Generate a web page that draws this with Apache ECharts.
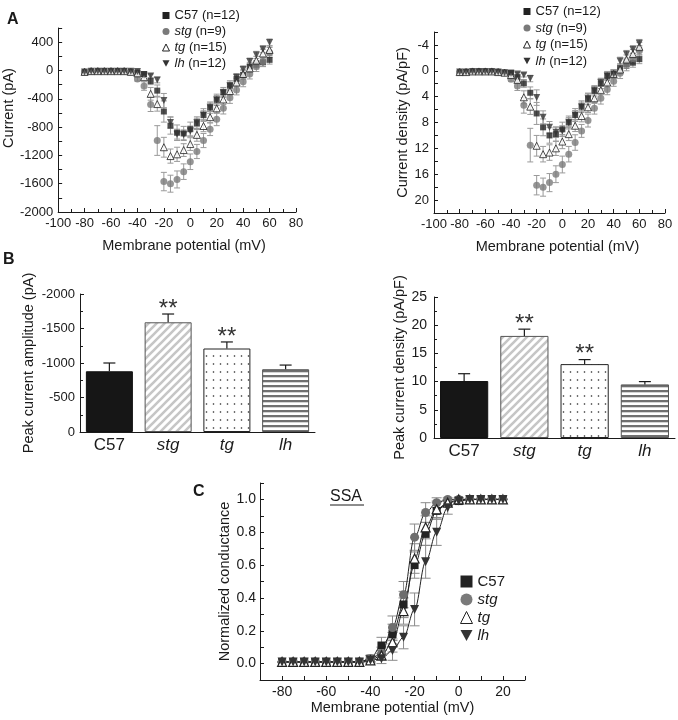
<!DOCTYPE html>
<html><head><meta charset="utf-8">
<script src="https://cdn.jsdelivr.net/npm/echarts@6/dist/echarts.min.js"></script>
<style>html,body{margin:0;padding:0;background:#fff}#c{width:678px;height:720px}</style>
</head><body><div id="c"></div>
<script>
// ---------------- data ----------------
var groupNames = ['C57', 'stg', 'tg', 'lh'];
var groupN = [12, 9, 15, 12];

var voltagesA = [-80,-75,-70,-65,-60,-55,-50,-45,-40,-35,-30,-25,-20,-15,-10,-5,0,5,10,15,20,25,30,35,40,45,50,55,60];

var currC57 = [-30,-20,-15,-10,-10,-10,-10,-20,-30,-50,-150,-285,-580,-780,-880,-890,-830,-745,-630,-525,-415,-310,-215,-120,-65,55,80,115,150];
var currStg = [-20,-10,-10,-10,-10,-10,-10,-20,-120,-220,-480,-990,-1570,-1600,-1540,-1430,-1290,-1145,-990,-830,-690,-535,-385,-275,-160,-50,55,125,255];
var currTg  = [-20,-10,-10,-10,-10,-10,-10,-20,-40,-95,-330,-475,-1085,-1210,-1185,-1125,-1040,-910,-785,-660,-535,-410,-290,-170,-50,30,140,240,290];
var currLh  = [-20,-10,-10,-10,-10,-10,-10,-10,-15,-65,-80,-135,-425,-735,-900,-910,-855,-735,-630,-520,-415,-315,-215,-95,15,125,220,300,395];

var currErrC57 = [10,10,10,10,10,10,10,10,20,30,50,80,150,120,110,100,100,90,90,80,80,70,70,60,60,60,60,60,60];
var currErrStg = [10,10,10,10,10,10,10,10,30,60,100,210,130,120,120,110,110,100,100,90,90,80,80,70,70,70,70,70,70];
var currErrTg  = [10,10,10,10,10,10,10,10,20,40,90,100,140,100,100,90,90,90,80,80,70,70,60,60,60,60,60,60,60];
var currErrLh  = [10,10,10,10,10,10,10,10,10,20,30,40,100,80,70,70,70,60,60,60,60,50,50,50,50,50,50,50,50];

var densC57 = [0.3,0.2,0.2,0.2,0.2,0.2,0.2,0.3,0.3,1.0,1.95,3.4,6.6,8.75,10.0,9.8,9.05,8.0,6.85,5.55,4.35,3.1,1.95,0.8,0.5,-0.4,-1.05,-1.25,-1.8];
var densStg = [0.2,0.2,0.1,0.1,0.1,0.1,0.2,0.3,1.3,2.35,5.35,11.5,17.7,18.0,17.3,16.0,14.5,12.9,11.1,9.3,7.7,5.8,4.25,2.9,1.6,0.4,-0.8,-1.9,-3.1];
var densTg  = [0.2,0.2,0.1,0.1,0.1,0.1,0.2,0.3,0.65,1.4,4.1,5.55,11.6,12.9,12.65,12.0,10.95,9.8,8.5,7.0,5.65,4.25,3.0,1.8,0.5,-0.2,-1.75,-2.6,-3.7];
var densLh  = [0.2,0.2,0.1,0.1,0.1,0.1,0.2,0.3,0.4,0.5,0.65,1.2,4.15,7.2,8.75,9.5,9.3,7.95,6.85,5.55,4.25,3.0,1.8,0.75,0.5,-1.5,-2.55,-3.3,-4.25];

var densErrC57 = [0.1,0.1,0.1,0.1,0.1,0.1,0.1,0.1,0.2,0.4,0.6,0.9,1.7,1.3,1.2,1.1,1.1,1.0,1.0,0.9,0.9,0.8,0.8,0.7,0.7,0.7,0.7,0.7,0.7];
var densErrStg = [0.1,0.1,0.1,0.1,0.1,0.1,0.1,0.1,0.3,0.7,1.2,2.6,1.5,1.4,1.4,1.3,1.3,1.2,1.2,1.0,1.0,0.9,0.9,0.8,0.8,0.8,0.8,0.8,0.8];
var densErrTg  = [0.1,0.1,0.1,0.1,0.1,0.1,0.1,0.1,0.2,0.5,1.0,1.2,1.6,1.2,1.2,1.1,1.1,1.0,0.9,0.9,0.8,0.8,0.7,0.7,0.7,0.7,0.7,0.7,0.7];
var densErrLh  = [0.1,0.1,0.1,0.1,0.1,0.1,0.1,0.1,0.1,0.2,0.3,0.5,1.2,1.0,0.9,0.8,0.8,0.7,0.7,0.7,0.7,0.6,0.6,0.6,0.6,0.6,0.6,0.6,0.6];

var barCats = ['C57', 'stg', 'tg', 'lh'];
var peakAmp = [-880, -1590, -1210, -910];
var peakAmpErr = [120, 120, 95, 60];
var peakDens = [10.1, 18.1, 13.1, 9.5];
var peakDensErr = [1.3, 1.2, 0.8, 0.5];
var sigMarks = ['', '**', '**', ''];

var voltagesC = [-80,-75,-70,-65,-60,-55,-50,-45,-40,-35,-30,-25,-20,-15,-10,-5,0,5,10,15,20];
var gC57 = [0.01,0.01,0.01,0.01,0.01,0.01,0.01,0.01,0.03,0.11,0.18,0.36,0.60,0.79,0.93,0.98,0.99,1.0,1.0,1.0,1.0];
var gStg = [0.01,0.01,0.01,0.01,0.01,0.01,0.01,0.01,0.03,0.06,0.22,0.42,0.77,0.92,0.98,1.0,1.0,1.0,1.0,1.0,1.0];
var gTg  = [0.01,0.01,0.01,0.01,0.01,0.01,0.01,0.01,0.02,0.05,0.13,0.32,0.64,0.83,0.94,0.98,1.0,1.0,1.0,1.0,1.0];
var gLh  = [0.01,0.01,0.01,0.01,0.01,0.01,0.01,0.01,0.02,0.03,0.08,0.16,0.33,0.62,0.80,0.95,0.99,1.0,1.0,1.0,1.0];
var gErrC57 = [0,0,0,0,0,0,0,0,0.02,0.05,0.06,0.08,0.08,0.07,0.05,0.02,0.01,0,0,0,0];
var gErrStg = [0,0,0,0,0,0,0,0,0.02,0.04,0.07,0.08,0.08,0.06,0.03,0.01,0,0,0,0,0];
var gErrTg  = [0,0,0,0,0,0,0,0,0.02,0.03,0.06,0.08,0.09,0.07,0.05,0.02,0.01,0,0,0,0];
var gErrLh  = [0,0,0,0,0,0,0,0,0.01,0.03,0.06,0.07,0.10,0.10,0.08,0.04,0.02,0,0,0,0];

// ---------------- styles ----------------
var FONT = '"Liberation Sans", Arial, sans-serif';
var INK = '#1a1a1a';

function mkCanvas(w, h) { var c = document.createElement('canvas'); c.width = w; c.height = h; var g = c.getContext('2d'); g.fillStyle = '#fff'; g.fillRect(0, 0, w, h); return [c, g]; }
function hatchPattern() {
  var r = mkCanvas(8, 8), c = r[0], g = r[1];
  g.strokeStyle = '#c6c6c6'; g.lineWidth = 2.6; g.beginPath();
  g.moveTo(-4, 4); g.lineTo(4, -4);
  g.moveTo(-4, 12); g.lineTo(12, -4);
  g.moveTo(4, 12); g.lineTo(12, 4);
  g.stroke();
  return c;
}
function dotPattern() {
  var r = mkCanvas(7, 8), c = r[0], g = r[1];
  g.fillStyle = '#222'; g.beginPath(); g.arc(3.5, 4, 0.8, 0, Math.PI * 2); g.fill();
  return c;
}
function stripePattern() {
  var r = mkCanvas(8, 5), c = r[0], g = r[1];
  g.fillStyle = '#707070'; g.fillRect(0, 0, 8, 2.3);
  return c;
}
var barFills = ['#161616', {image: hatchPattern(), repeat: 'repeat'}, {image: dotPattern(), repeat: 'repeat'}, {image: stripePattern(), repeat: 'repeat'}];
var barBorders = ['#111', '#555', '#222', '#555'];

var markerA = [
  {symbol: 'rect', size: 6, style: {color: '#222'}},
  {symbol: 'circle', size: 7, style: {color: '#7a7a7a'}},
  {symbol: 'triangle', size: 7, style: {color: '#fff', borderColor: '#222', borderWidth: 1}},
  {symbol: 'triangle', size: 7, rotate: 180, style: {color: '#333'}}
];
var markerC = [
  {symbol: 'rect', size: 8, style: {color: '#222'}},
  {symbol: 'circle', size: 9, style: {color: '#6e6e6e'}},
  {symbol: 'triangle', size: 9, style: {color: '#fff', borderColor: '#222', borderWidth: 1.2}},
  {symbol: 'triangle', size: 9, rotate: 180, style: {color: '#333'}}
];
var legendIcons = ['rect', 'circle', 'triangle', 'path://M0,0L10,0L5,9Z'];

function axisBase(extra) {
  var a = {
    axisLine: {show: true, onZero: false, lineStyle: {color: INK, width: 1}},
    axisTick: {show: true, inside: true, length: 4, lineStyle: {color: INK}},
    minorTick: {show: false},
    splitLine: {show: false},
    axisLabel: {color: INK, fontFamily: FONT, fontSize: 13, margin: 5, formatter: function (v) { return String(v); }},
    nameTextStyle: {color: INK, fontFamily: FONT, fontSize: 14.5}
  };
  for (var k in extra) {
    if (a[k] && typeof a[k] === 'object' && typeof extra[k] === 'object') {
      for (var kk in extra[k]) a[k][kk] = extra[k][kk];
    } else a[k] = extra[k];
  }
  return a;
}

function errRender(color, cap) {
  return function (params, api) {
    var x = api.value(0), lo = api.value(1), hi = api.value(2);
    var a = api.coord([x, lo]), b = api.coord([x, hi]);
    var st = {stroke: color, lineWidth: 1};
    return {type: 'group', children: [
      {type: 'line', shape: {x1: a[0], y1: a[1], x2: b[0], y2: b[1]}, style: st},
      {type: 'line', shape: {x1: a[0] - cap, y1: a[1], x2: a[0] + cap, y2: a[1]}, style: st},
      {type: 'line', shape: {x1: b[0] - cap, y1: b[1], x2: b[0] + cap, y2: b[1]}, style: st}
    ]};
  };
}
function barErrRender(params, api) {
  var x = api.value(0), v = api.value(1), e = api.value(2);
  var a = api.coord([x, v]), b = api.coord([x, e]);
  var st = {stroke: INK, lineWidth: 1.2};
  var ch = [
    {type: 'line', shape: {x1: a[0], y1: a[1], x2: b[0], y2: b[1]}, style: st},
    {type: 'line', shape: {x1: b[0] - 6, y1: b[1], x2: b[0] + 6, y2: b[1]}, style: st}
  ];
  var s = sigMarks[params.dataIndex];
  if (s) ch.push({type: 'text', x: b[0], y: b[1] - 17, style: {text: s, fill: '#333', fontFamily: FONT, fontSize: 24, align: 'center', verticalAlign: 'top'}});
  return {type: 'group', children: ch};
}

var currSets = [[currC57, currErrC57], [currStg, currErrStg], [currTg, currErrTg], [currLh, currErrLh]];
var densSets = [[densC57, densErrC57], [densStg, densErrStg], [densTg, densErrTg], [densLh, densErrLh]];
var gSets = [[gC57, gErrC57], [gStg, gErrStg], [gTg, gErrTg], [gLh, gErrLh]];

var series = [];
function addScatterGroup(sets, xs, axisIdx, markers, errColor, cap, asLine) {
  sets.forEach(function (s, gi) {
    var vals = s[0], errs = s[1];
    series.push({
      name: groupNames[gi], type: 'custom', xAxisIndex: axisIdx, yAxisIndex: axisIdx, z: 1,
      renderItem: errRender(errColor, cap), encode: {x: 0, y: [1, 2]}, silent: true,
      data: xs.map(function (x, i) { return [x, vals[i] - errs[i], vals[i] + errs[i]]; })
    });
  });
  sets.forEach(function (s, gi) {
    var vals = s[0];
    var m = markers[gi];
    var o = {
      name: groupNames[gi], type: asLine ? 'line' : 'scatter', xAxisIndex: axisIdx, yAxisIndex: axisIdx, z: 3,
      symbol: m.symbol, symbolSize: m.size, symbolRotate: m.rotate || 0, itemStyle: m.style,
      data: xs.map(function (x, i) { return [x, vals[i]]; })
    };
    if (asLine) {
      o.smooth = 0.35; o.smoothMonotone = 'x'; o.showAllSymbol = true;
      o.lineStyle = {color: '#222', width: 1};
    }
    series.push(o);
  });
}
addScatterGroup(currSets, voltagesA, 0, markerA, '#9a9a9a', 3);
addScatterGroup(densSets, voltagesA, 1, markerA, '#9a9a9a', 3);

[[peakAmp, peakAmpErr, 2], [peakDens, peakDensErr, 3]].forEach(function (b) {
  series.push({
    type: 'bar', xAxisIndex: b[2], yAxisIndex: b[2], barWidth: '80%', z: 2, silent: true,
    data: b[0].map(function (v, i) { return {value: v, itemStyle: {color: barFills[i], borderColor: barBorders[i], borderWidth: 1}}; })
  });
  series.push({
    type: 'custom', xAxisIndex: b[2], yAxisIndex: b[2], z: 3, renderItem: barErrRender, silent: true,
    encode: {x: 0, y: [1, 2]},
    data: b[0].map(function (v, i) { return [i, v, v + (v < 0 ? -1 : 1) * b[1][i]]; })
  });
});

addScatterGroup(gSets, voltagesC, 4, markerC, '#8a8a8a', 5, true);

function legendData() {
  return groupNames.map(function (n, i) {
    var st = {color: markerA[i].style.color};
    if (markerA[i].style.borderColor) { st.borderColor = '#222'; st.borderWidth = 1; }
    return {name: n, icon: legendIcons[i], itemStyle: st};
  });
}
var legRich = function (fs) {
  return {n: {fontFamily: FONT, fontSize: fs, color: INK}, i: {fontFamily: FONT, fontSize: fs, color: INK, fontStyle: 'italic'}};
};
function fmtA(name) {
  var i = groupNames.indexOf(name);
  return (name === 'C57' ? '{n|C57}' : '{i|' + name + '}') + '{n| (n=' + groupN[i] + ')}';
}
function fmtC(name) { return name === 'C57' ? '{n|C57}' : '{i|' + name + '}'; }

var option = {
  animation: false,
  backgroundColor: '#fff',
  textStyle: {fontFamily: FONT, color: INK},
  grid: [
    {left: 57, top: 28, width: 239, height: 184},
    {left: 434, top: 32, width: 231, height: 181},
    {left: 80, top: 294, width: 235, height: 138},
    {left: 434, top: 297, width: 241, height: 141},
    {left: 260, top: 483, width: 265, height: 197}
  ],
  legend: [
    {left: 157, top: 4, orient: 'vertical', itemWidth: 7, itemHeight: 7, itemGap: 3, selectedMode: false,
     data: legendData(), formatter: fmtA, textStyle: {fontSize: 13, fontFamily: FONT, color: INK, rich: legRich(13)}},
    {left: 518, top: 0, orient: 'vertical', itemWidth: 7, itemHeight: 7, itemGap: 3.5, selectedMode: false,
     data: legendData(), formatter: fmtA, textStyle: {fontSize: 13, fontFamily: FONT, color: INK, rich: legRich(13)}},
    {left: 455, top: 569, orient: 'vertical', itemWidth: 12, itemHeight: 12, itemGap: 3, selectedMode: false,
     data: legendData(), formatter: fmtC, textStyle: {fontSize: 15, fontFamily: FONT, color: INK, rich: legRich(15)}}
  ],
  xAxis: [
    axisBase({gridIndex: 0, type: 'value', min: -100, max: 80, interval: 20, minorTick: {show: true, splitNumber: 2, length: 3, lineStyle: {color: INK}},
      name: 'Membrane potential (mV)', nameLocation: 'middle', nameGap: 26, nameTextStyle: {padding: [0, 0, 0, 14]}}),
    axisBase({gridIndex: 1, type: 'value', min: -100, max: 80, interval: 20, minorTick: {show: true, splitNumber: 2, length: 3, lineStyle: {color: INK}},
      name: 'Membrane potential (mV)', nameLocation: 'middle', nameGap: 26, nameTextStyle: {padding: [0, 0, 0, 16]}}),
    axisBase({gridIndex: 2, type: 'category', data: barCats, axisTick: {show: false},
      axisLabel: {margin: 5, formatter: fmtC, rich: legRich(17)}}),
    axisBase({gridIndex: 3, type: 'category', data: barCats, axisTick: {show: false},
      axisLabel: {margin: 5, formatter: fmtC, rich: legRich(17)}}),
    axisBase({gridIndex: 4, type: 'value', min: -90, max: 30, interval: 10,
      axisLabel: {fontSize: 14, formatter: function (v) { var r = Math.round(v); return ((r + 80) % 20 === 0) ? String(r) : ''; }},
      name: 'Membrane potential (mV)', nameLocation: 'middle', nameGap: 20})
  ],
  yAxis: [
    axisBase({gridIndex: 0, type: 'value', min: -2000, max: 600, interval: 200,
      axisLabel: {formatter: function (v) { return (v % 400 === 0 && v <= 400) ? String(v) : ''; }},
      name: 'Current (pA)', nameLocation: 'middle', nameGap: 38, nameTextStyle: {padding: [0, 0, 0, 24]}}),
    axisBase({gridIndex: 1, type: 'value', inverse: true, min: -6, max: 22, interval: 2,
      axisLabel: {formatter: function (v) { return (v % 4 === 0 && v >= -4 && v <= 20) ? String(v) : ''; }},
      name: 'Current density (pA/pF)', nameLocation: 'middle', nameGap: 21}),
    axisBase({gridIndex: 2, type: 'value', inverse: true, min: -2000, max: 0, interval: 500,
      minorTick: {show: true, splitNumber: 2, length: 3, lineStyle: {color: INK}},
      name: 'Peak current amplitude (pA)', nameLocation: 'middle', nameGap: 44}),
    axisBase({gridIndex: 3, type: 'value', min: 0, max: 25, interval: 5,
      minorTick: {show: true, splitNumber: 2, length: 3, lineStyle: {color: INK}},
      axisLabel: {fontSize: 14, margin: 7},
      name: 'Peak current density (pA/pF)', nameLocation: 'middle', nameGap: 21}),
    axisBase({gridIndex: 4, type: 'value', min: -0.1, max: 1.1, interval: 0.1,
      axisLabel: {fontSize: 14, margin: 4, formatter: function (v) { var r = Math.round(v * 10); return (r % 2 === 0 && r >= 0 && r <= 10) ? (r / 10).toFixed(1) : ''; }},
      name: 'Normalized conductance', nameLocation: 'middle', nameGap: 27})
  ],
  graphic: [
    {type: 'text', left: 7, top: 12, style: {text: 'A', fontFamily: FONT, fontSize: 16, fontWeight: 'bold', fill: INK}},
    {type: 'text', left: 3, top: 252, style: {text: 'B', fontFamily: FONT, fontSize: 16, fontWeight: 'bold', fill: INK}},
    {type: 'text', left: 193, top: 484, style: {text: 'C', fontFamily: FONT, fontSize: 16, fontWeight: 'bold', fill: INK}},
    {type: 'text', left: 330, top: 489, style: {text: 'SSA', fontFamily: FONT, fontSize: 16, fill: INK}},
    {type: 'line', shape: {x1: 330, y1: 505, x2: 364, y2: 505}, style: {stroke: INK, lineWidth: 1}}
  ],
  series: series
};
var chart = echarts.init(document.getElementById('c'));
chart.setOption(option);
</script>
</body></html>
